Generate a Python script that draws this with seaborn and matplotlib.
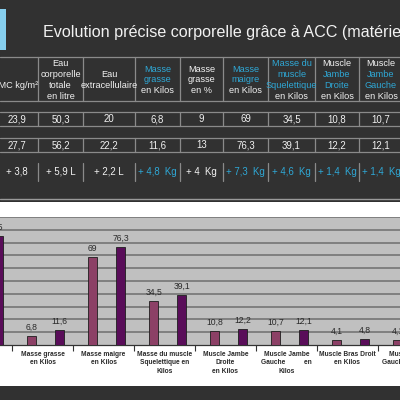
import matplotlib
matplotlib.use("Agg")
import matplotlib.pyplot as plt
import pandas as pd
import seaborn as sns

# ── table data ────────────────────────────────────────────────────────────────
title = "Evolution précise corporelle grâce à ACC (matériel)"
headers = [
    ["", "IMC kg/m²"],
    ["Eau", "corporelle", "totale", "en litre"],
    ["Eau", "extracellulaire"],
    ["Masse", "grasse", "en Kilos"],
    ["Masse", "grasse", "en %"],
    ["Masse", "maigre", "en Kilos"],
    ["Masse du", "muscle", "Squelettique", "en Kilos"],
    ["Muscle", "Jambe", "Droite", "en Kilos"],
    ["Muscle", "Jambe", "Gauche", "en Kilos"],
]
header_cyan = [[], [], [], [0, 1], [], [0, 1], [0, 1, 2], [1, 2], [1, 2]]
row_avant = ["23,9", "50,3", "20", "6,8", "9", "69", "34,5", "10,8", "10,7"]
row_apres = ["27,7", "56,2", "22,2", "11,6", "13", "76,3", "39,1", "12,2", "12,1"]
row_ecart = ["+ 3,8", "+ 5,9 L", "+ 2,2 L", "+ 4,8  Kg", "+ 4  Kg",
             "+ 7,3  Kg", "+ 4,6  Kg", "+ 1,4  Kg", "+ 1,4  Kg"]
ecart_cyan = [False, False, False, True, False, True, True, True, True]

# ── chart data ────────────────────────────────────────────────────────────────
categories = [
    "Poids\nen Kilos",
    "Masse grasse\nen Kilos",
    "Masse maigre\nen Kilos",
    "Masse du muscle\nSquelettique en\nKilos",
    "Muscle Jambe\nDroite\nen Kilos",
    "Muscle Jambe\nGauche          en\nKilos",
    "Muscle Bras Droit\nen Kilos",
    "Muscle Bras\nGauche en Kilos",
]
avant = [72.9, 6.8, 69, 34.5, 10.8, 10.7, 4.1, 4.1]
apres = [85, 11.6, 76.3, 39.1, 12.2, 12.1, 4.8, 4.8]

BG = "#313131"
LINE = "#8a8a8a"
WHITE = "#f2f2f2"
CYAN = "#2fa8d6"

sns.set_style("white")
plt.rcParams["font.family"] = ["Liberation Sans", "DejaVu Sans"]

fig = plt.figure(figsize=(4, 4), dpi=100, facecolor=BG)

# background layer in pixel coordinates
bg = fig.add_axes([0, 0, 1, 1])
bg.set_xlim(0, 400)
bg.set_ylim(400, 0)
bg.axis("off")

bg.add_patch(plt.Rectangle((0, 9), 6, 41, color="#86cfee", lw=0))
bg.text(43, 37, title, color=WHITE, fontsize=11.6, va="baseline", ha="left")

col_edges = [-4, 38, 83, 135, 180, 223, 268, 315, 359, 403]
centers = [(a + b) / 2 for a, b in zip(col_edges[:-1], col_edges[1:])]

for y in [57, 101, 112, 126, 138, 152]:
    bg.plot([0, 400], [y, y], color=LINE, lw=0.9)
for x in col_edges[1:]:
    for y0, y1 in [(57, 101), (112, 126), (138, 152), (163, 181)]:
        bg.plot([x, x], [y0, y1], color=LINE, lw=0.9)

for i, lines in enumerate(headers):
    n = len(lines)
    for k, txt in enumerate(lines):
        y = 80 + (k - (n - 1) / 2) * 10.8
        color = CYAN if k in header_cyan[i] else WHITE
        bg.text(centers[i], y, txt, color=color, fontsize=6.6,
                ha="center", va="center")
    bg.text(centers[i], 119, row_avant[i], color=WHITE, fontsize=6.9,
            ha="center", va="center")
    bg.text(centers[i], 145, row_apres[i], color=WHITE, fontsize=6.9,
            ha="center", va="center")
    bg.text(centers[i], 172, row_ecart[i], color=CYAN if ecart_cyan[i] else WHITE,
            fontsize=6.9, ha="center", va="center")

# white chart panel
bg.plot([0, 400], [199, 199], color="#9a9a9a", lw=1)
bg.add_patch(plt.Rectangle((0, 201.5), 400, 184.5, color="white", lw=0))

# ── bar chart ─────────────────────────────────────────────────────────────────
df = pd.DataFrame({
    "categorie": categories * 2,
    "periode": ["Avant"] * len(categories) + ["Après"] * len(categories),
    "valeur": avant + apres,
})

ax = fig.add_axes([0, 55 / 400, 1, 128 / 400])
ax.set_facecolor("#c0c0c0")
sns.barplot(data=df, x="categorie", y="valeur", hue="periode",
            palette={"Avant": "#993366", "Après": "#660066"},
            width=0.92, gap=0.67, edgecolor="#1e1e1e", linewidth=0.6,
            legend=False, ax=ax, zorder=3)

for cont in ax.containers:
    ax.bar_label(cont, labels=[f"{v:g}".replace(".", ",") for v in cont.datavalues],
                 padding=3, fontsize=6.2, color="#2a2a2a", annotation_clip=False)

ax.set_ylim(0, 100)
ax.set_yticks(range(10, 101, 10))
ax.yaxis.grid(True, color="#6e6e6e", lw=1.1, zorder=0)
ax.set_axisbelow(True)
ax.tick_params(axis="y", left=False, labelleft=False)

# category labels drawn as annotations so the clipped edge groups still show
n = len(categories)
ax.set_xticks([i - 0.55 for i in range(n + 1)])
ax.set_xticklabels([])
for i, lab in enumerate(categories):
    ax.annotate(lab, xy=(i - 0.05, 0), xycoords=("data", "axes fraction"),
                xytext=(0, -4), textcoords="offset points", ha="center", va="top",
                fontsize=4.8, fontweight="bold", color="#2a2a2a",
                linespacing=1.3, annotation_clip=False)
ax.set_xlim(0.253, 6.811)
ax.tick_params(axis="x", length=4, width=0.8, color="#333333",
               direction="out", bottom=True)
ax.set_xlabel("")
ax.set_ylabel("")
for side in ["top", "left", "right"]:
    ax.spines[side].set_visible(False)
ax.spines["bottom"].set_color("#333333")
ax.spines["bottom"].set_linewidth(0.9)

fig.savefig("out.png", dpi=100, facecolor=BG)
